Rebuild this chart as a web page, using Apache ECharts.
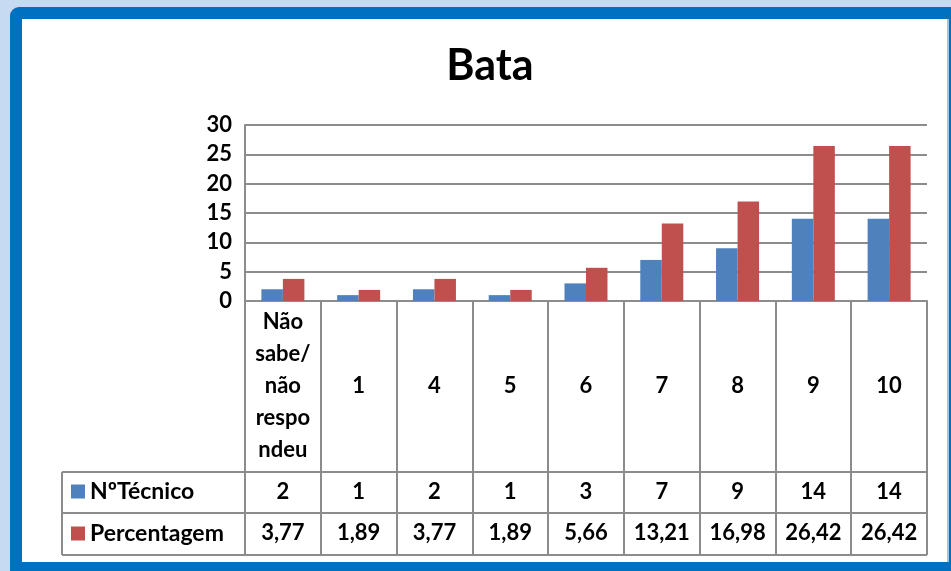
<!DOCTYPE html>
<html><head><meta charset="utf-8">
<script src="https://cdn.jsdelivr.net/npm/echarts@6/dist/echarts.min.js"></script>
<style>
html,body{margin:0;padding:0;background:#fff;}
#frame1{position:absolute;left:0;top:0;width:951px;height:571px;background:#C6DAF2;}
#frame2{position:absolute;left:10px;top:7px;width:941px;height:564px;background:#0070C0;border-top-left-radius:9px;}
#frame3{position:absolute;left:22px;top:19px;width:925px;height:543px;background:#fff;border-right:2px solid #9DC3E6;}
#chart{position:absolute;left:0;top:0;width:951px;height:571px;}
</style></head>
<body>
<div id="frame1"></div><div id="frame2"></div><div id="frame3"></div>
<div id="chart"></div>
<script>
const titleText = 'Bata';
const categories = ['Não\nsabe/\nnão\nrespo\nndeu', '1', '4', '5', '6', '7', '8', '9', '10'];
const seriesNames = ['NºTécnico', 'Percentagem'];
const tecnico = [2, 1, 2, 1, 3, 7, 9, 14, 14];
const percentagem = [3.77, 1.89, 3.77, 1.89, 5.66, 13.21, 16.98, 26.42, 26.42];
const yTicks = [0, 5, 10, 15, 20, 25, 30];

const FONT = 'Lato, "Open Sans", sans-serif';
const GRID = {left: 245, right: 24, top: 125, bottom: 270};
const TABLE_LEFT = 62;
const ROW_LINES = [472, 513, 555];
const LINE_COLOR = '#8c8c8c';
const fmt = v => v.toFixed(2).replace('.', ',');

const chart = echarts.init(document.getElementById('chart'));
const labelStyle = {color: '#000', fontWeight: 'bold', fontSize: 22, fontFamily: FONT};
const legendText = {color: '#000', fontWeight: 'bold', fontSize: 23, fontFamily: FONT};

const option = {
  animation: false,
  title: {text: titleText, left: 485, top: 40, textAlign: 'center',
    textStyle: {fontSize: 43, fontWeight: 'bold', color: '#000', fontFamily: FONT}},
  color: ['#4F81BD', '#C0504D'],
  legend: [
    {data: [seriesNames[0]], left: 66, top: 492 - 17, orient: 'vertical', icon: 'rect',
     itemWidth: 14, itemHeight: 14, selectedMode: false, textStyle: legendText},
    {data: [seriesNames[1]], left: 66, top: 534 - 17, orient: 'vertical', icon: 'rect',
     itemWidth: 14, itemHeight: 14, selectedMode: false, textStyle: legendText}
  ],
  grid: Object.assign({containLabel: false}, GRID),
  xAxis: [
    {type: 'category', data: categories, position: 'bottom',
     axisLine: {lineStyle: {color: LINE_COLOR, width: 2}},
     axisTick: {show: true, length: ROW_LINES[2] - (571 - GRID.bottom), lineStyle: {color: LINE_COLOR, width: 2}},
     axisLabel: Object.assign({margin: 85, verticalAlign: 'middle', lineHeight: 32, interval: 0}, labelStyle)},
    {type: 'category', data: tecnico.map(String), position: 'bottom',
     axisLine: {show: false}, axisTick: {show: false},
     axisLabel: Object.assign({margin: 191, verticalAlign: 'middle', interval: 0}, labelStyle)},
    {type: 'category', data: percentagem.map(fmt), position: 'bottom',
     axisLine: {show: false}, axisTick: {show: false},
     axisLabel: Object.assign({margin: 232, verticalAlign: 'middle', interval: 0}, labelStyle)}
  ],
  yAxis: {type: 'value', min: yTicks[0], max: yTicks[yTicks.length - 1], interval: 5,
    axisLine: {show: true, lineStyle: {color: LINE_COLOR, width: 2}},
    axisTick: {show: false},
    splitLine: {lineStyle: {color: LINE_COLOR, width: 2}},
    axisLabel: Object.assign({margin: 13}, labelStyle)},
  series: [
    {name: seriesNames[0], type: 'bar', data: tecnico, barWidth: 21.5, barGap: '0%'},
    {name: seriesNames[1], type: 'bar', data: percentagem, barWidth: 21.5, barGap: '0%'}
  ]
};
chart.setOption(option);

const right = 951 - GRID.right;
const g = [];
ROW_LINES.forEach(y => g.push({type: 'line', shape: {x1: TABLE_LEFT, y1: y, x2: right, y2: y},
  style: {stroke: LINE_COLOR, lineWidth: 2}}));
g.push({type: 'line', shape: {x1: TABLE_LEFT, y1: ROW_LINES[0], x2: TABLE_LEFT, y2: ROW_LINES[2]},
  style: {stroke: LINE_COLOR, lineWidth: 2}});
chart.setOption({graphic: g});
</script>
</body></html>
